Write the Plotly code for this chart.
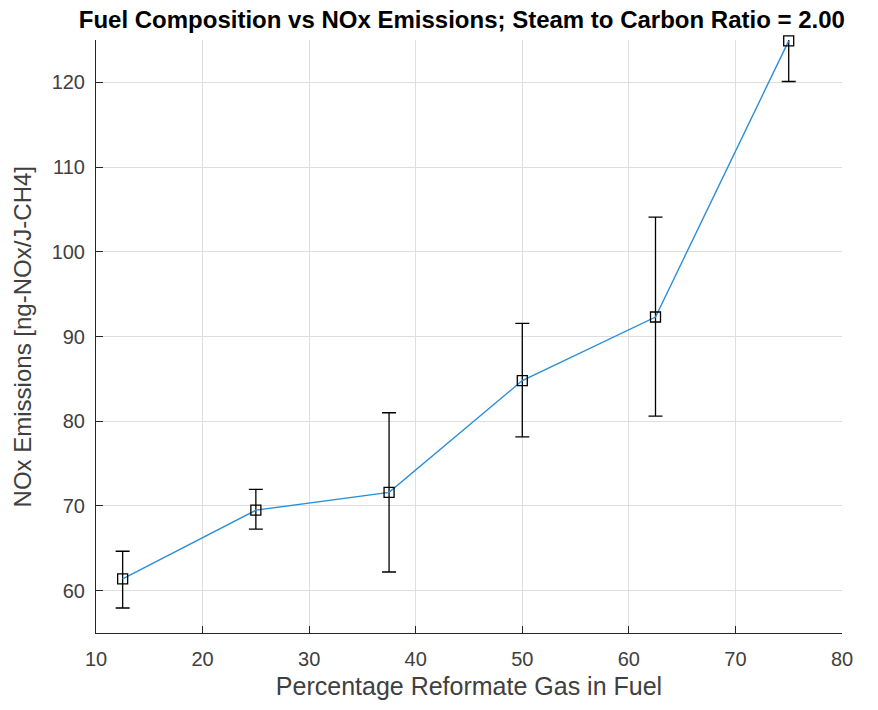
import plotly.graph_objects as go

# Reformate gas share in fuel (%) and measured NOx emissions
reformate_pct = [12.5, 25, 37.5, 50, 62.5, 75]
nox_mean = [61.4, 69.5, 71.6, 84.8, 92.3, 124.9]
nox_low = [57.95, 67.25, 62.2, 78.15, 80.6, 120.1]
nox_high = [64.65, 71.95, 81.0, 91.55, 104.1, 129.7]

x_ticks = [10, 20, 30, 40, 50, 60, 70, 80]
y_ticks = [60, 70, 80, 90, 100, 110, 120]

err_plus = [h - m for h, m in zip(nox_high, nox_mean)]
err_minus = [m - l for m, l in zip(nox_mean, nox_low)]

FONT = "Liberation Sans, Arial, Helvetica, sans-serif"
AXIS_COLOR = "#262626"
TEXT_COLOR = "#404040"

fig = go.Figure()

# Error bars (clipped to the axes)
fig.add_trace(go.Scatter(
    x=reformate_pct, y=nox_mean, mode="markers",
    marker=dict(size=1, opacity=0),
    error_y=dict(type="data", symmetric=False, array=err_plus, arrayminus=err_minus,
                 color="black", thickness=1.3, width=7),
    cliponaxis=True, showlegend=False, hoverinfo="skip",
))

# Mean line with square markers
fig.add_trace(go.Scatter(
    x=reformate_pct, y=nox_mean, mode="lines+markers",
    line=dict(color="#2b8fd8", width=1.4),
    marker=dict(symbol="square-open", size=10, color="black", line=dict(width=1.3)),
    cliponaxis=False, showlegend=False,
))

fig.update_layout(
    width=878, height=710,
    margin=dict(l=96, r=36, t=40, b=77),
    paper_bgcolor="white", plot_bgcolor="white",
    font=dict(family=FONT, color=AXIS_COLOR),
    title=dict(text="<b>Fuel Composition vs NOx Emissions; Steam to Carbon Ratio = 2.00</b>",
               x=0.526, xanchor="center", y=0.972, yanchor="middle",
               font=dict(size=24, color="black", family=FONT)),
    annotations=[dict(
        text="NOx Emissions [ng-NOx/J-CH4]", textangle=-90,
        xref="paper", yref="paper", x=-0.098, y=0.5,
        xanchor="center", yanchor="middle", showarrow=False,
        font=dict(size=24, color=TEXT_COLOR, family=FONT),
    )],
)

fig.update_xaxes(
    range=[10, 80], tickvals=x_ticks, ticktext=[str(v) for v in x_ticks],
    showgrid=True, gridcolor="#dedede", gridwidth=1, zeroline=False,
    showline=True, linecolor=AXIS_COLOR, linewidth=1, mirror=False,
    ticks="inside", ticklen=7, tickcolor=AXIS_COLOR,
    tickfont=dict(size=20, color=TEXT_COLOR), ticklabelstandoff=8,
    title=dict(text="Percentage Reformate Gas in Fuel", font=dict(size=25, color=TEXT_COLOR), standoff=8),
)
fig.update_yaxes(
    range=[55, 125], tickvals=y_ticks, ticktext=[str(v) for v in y_ticks],
    showgrid=True, gridcolor="#dedede", gridwidth=1, zeroline=False,
    showline=True, linecolor=AXIS_COLOR, linewidth=1, mirror=False,
    ticks="inside", ticklen=7, tickcolor=AXIS_COLOR,
    tickfont=dict(size=20, color=TEXT_COLOR), ticklabelstandoff=6,
)

fig.write_html("out.html")
